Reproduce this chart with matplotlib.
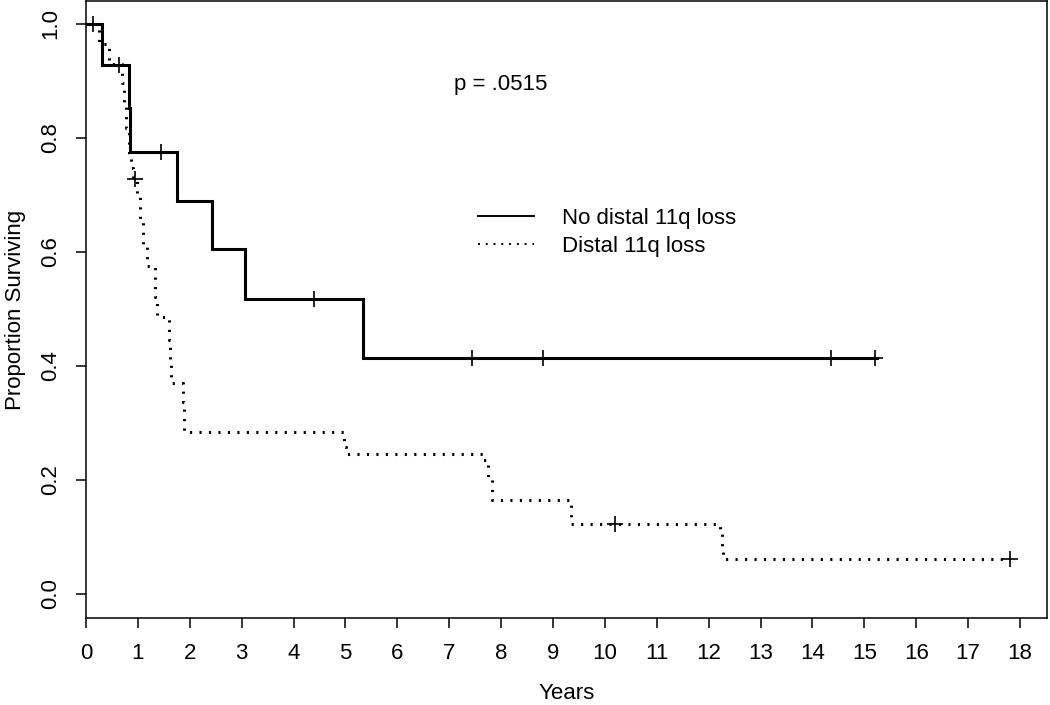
import numpy as np
import matplotlib
matplotlib.use("Agg")
import matplotlib.pyplot as plt
from matplotlib.lines import Line2D

plt.rcParams['font.family'] = ['Liberation Sans', 'DejaVu Sans']

# ---- data ----
no_loss_label = "No distal 11q loss"
no_loss_times = [0.30, 0.82, 0.85, 1.76, 2.43, 3.06, 5.33]
no_loss_surv = [0.928, 0.853, 0.775, 0.689, 0.605, 0.518, 0.414]
no_loss_end = 15.25
no_loss_censor = [0.14, 0.64, 1.44, 4.40, 7.43, 8.80, 14.35, 15.20]

loss_label = "Distal 11q loss"
loss_times = [0.26, 0.45, 0.69, 0.73, 0.77, 0.82, 0.87, 0.91, 0.99, 1.05,
              1.09, 1.17, 1.33, 1.37, 1.59, 1.61, 1.63, 1.86, 1.88, 4.97,
              5.02, 7.65, 7.75, 7.82, 9.35, 12.22, 12.25, 12.28]
loss_surv = [0.964, 0.930, 0.896, 0.860, 0.818, 0.772, 0.748, 0.728, 0.700, 0.655,
             0.611, 0.576, 0.521, 0.486, 0.445, 0.407, 0.370, 0.337, 0.285, 0.257,
             0.245, 0.235, 0.203, 0.165, 0.123, 0.113, 0.080, 0.062]
loss_end = 17.80
loss_censor = [0.94, 10.20, 17.80]

x_ticks = list(range(0, 19))
y_ticks = [0.0, 0.2, 0.4, 0.6, 0.8, 1.0]
p_text = "p = .0515"


def step_xy(times, surv, end):
    xs = [0.0] + list(times) + [end]
    ys = [1.0] + list(surv) + [surv[-1]]
    return xs, ys


def surv_at(times, surv, t):
    idx = np.searchsorted(times, t, side='right')
    return 1.0 if idx == 0 else surv[idx - 1]


fig = plt.figure(figsize=(10.5, 7.05), dpi=100)
ax = fig.add_axes([86 / 1050, 87 / 705, (1047 - 86) / 1050, 617 / 705])

dot_style = (0, (0.7, 2.4))
fs = 16

xs, ys = step_xy(no_loss_times, no_loss_surv, no_loss_end)
ax.step(xs, ys, where='post', color='black', lw=2.2, solid_joinstyle='miter')
cy = [surv_at(no_loss_times, no_loss_surv, t) for t in no_loss_censor]
ax.plot(no_loss_censor, cy, ls='none', marker='+', ms=11, mew=1.2, color='black')

xs, ys = step_xy(loss_times, loss_surv, loss_end)
ax.step(xs, ys, where='post', color='black', lw=2.2, linestyle=dot_style)
cy = [surv_at(loss_times, loss_surv, t) for t in loss_censor]
ax.plot(loss_censor, cy, ls='none', marker='+', ms=11, mew=1.2, color='black')

ax.set_xlim(0, 18.52)
ax.set_ylim(-0.042, 1.04)
ax.set_xticks(x_ticks)
ax.set_xticklabels([str(v) for v in x_ticks])
ax.set_yticks(y_ticks)
ax.set_yticklabels([f"{v:.1f}" for v in y_ticks], rotation=90, va='center')

for s in ax.spines.values():
    s.set_linewidth(1.1)
ax.tick_params(axis='both', direction='out', length=7, width=1.1, labelsize=fs)
ax.tick_params(axis='x', pad=11)
ax.tick_params(axis='y', pad=11)

ax.set_xlabel("Years", fontsize=fs, labelpad=14)
ax.set_ylabel("Proportion Surviving", fontsize=fs, labelpad=10)

ax.text(8.0, 0.893, p_text, ha='center', va='center', fontsize=fs)

handles = [Line2D([], [], color='black', lw=1.4),
           Line2D([], [], color='black', lw=1.4, linestyle=(0, (1, 3)))]
ax.legend(handles, [no_loss_label, loss_label], loc='upper left',
          bbox_to_anchor=(478 / 1050, 1 - 208 / 705), bbox_transform=fig.transFigure,
          frameon=False, fontsize=fs, borderpad=0, borderaxespad=0,
          handlelength=2.5, handletextpad=1.3, labelspacing=0.32)

fig.savefig("out.png", dpi=100)
